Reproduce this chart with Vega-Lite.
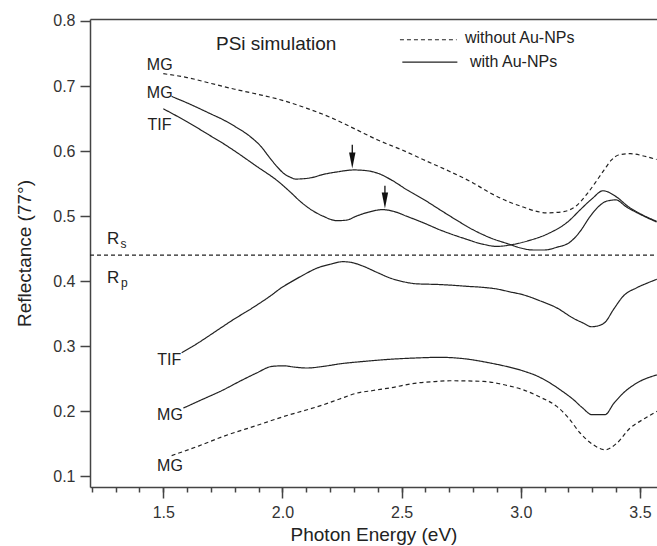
{
 "$schema": "https://vega.github.io/schema/vega-lite/v6.json",
 "width": 567, "height": 468,
 "autosize": {"type": "none"},
 "padding": {"left": 90, "top": 19, "right": 0, "bottom": 59},
 "config": {
   "view": {"stroke": null},
   "font": "Liberation Sans",
   "axis": {"domainColor": "#444", "domainWidth": 1.5, "tickColor": "#444", "tickWidth": 1.5, "labelColor": "#333", "labelFont": "Liberation Sans", "labelFontSize": 16, "titleFont": "Liberation Sans", "titleFontSize": 19, "titleFontWeight": "normal", "titleColor": "#222", "grid": false},
   "text": {"font": "Liberation Sans", "color": "#222"}
 },
 "datasets": {
  "lines": [
   {"s":"F","d":"dash","x":1.50,"y":0.719},{"s":"F","d":"dash","x":1.60,"y":0.713},{"s":"F","d":"dash","x":1.70,"y":0.704},{"s":"F","d":"dash","x":1.80,"y":0.695},{"s":"F","d":"dash","x":1.90,"y":0.687},{"s":"F","d":"dash","x":2.00,"y":0.678},{"s":"F","d":"dash","x":2.10,"y":0.666},{"s":"F","d":"dash","x":2.20,"y":0.652},{"s":"F","d":"dash","x":2.31,"y":0.633},{"s":"F","d":"dash","x":2.40,"y":0.617},{"s":"F","d":"dash","x":2.50,"y":0.602},{"s":"F","d":"dash","x":2.59,"y":0.587},{"s":"F","d":"dash","x":2.70,"y":0.569},{"s":"F","d":"dash","x":2.80,"y":0.551},{"s":"F","d":"dash","x":2.87,"y":0.536},{"s":"F","d":"dash","x":2.95,"y":0.522},{"s":"F","d":"dash","x":3.01,"y":0.514},{"s":"F","d":"dash","x":3.06,"y":0.508},{"s":"F","d":"dash","x":3.11,"y":0.505},{"s":"F","d":"dash","x":3.18,"y":0.507},{"s":"F","d":"dash","x":3.23,"y":0.515},{"s":"F","d":"dash","x":3.28,"y":0.535},{"s":"F","d":"dash","x":3.31,"y":0.550},{"s":"F","d":"dash","x":3.35,"y":0.571},{"s":"F","d":"dash","x":3.38,"y":0.586},{"s":"F","d":"dash","x":3.41,"y":0.594},{"s":"F","d":"dash","x":3.46,"y":0.596},{"s":"F","d":"dash","x":3.52,"y":0.592},{"s":"F","d":"dash","x":3.57,"y":0.587},
   {"s":"A","d":"solid","x":1.535,"y":0.684},{"s":"A","d":"solid","x":1.60,"y":0.674},{"s":"A","d":"solid","x":1.70,"y":0.657},{"s":"A","d":"solid","x":1.752,"y":0.648},{"s":"A","d":"solid","x":1.80,"y":0.638},{"s":"A","d":"solid","x":1.864,"y":0.6225},{"s":"A","d":"solid","x":1.91,"y":0.607},{"s":"A","d":"solid","x":1.948,"y":0.589},{"s":"A","d":"solid","x":1.98,"y":0.575},{"s":"A","d":"solid","x":2.004,"y":0.566},{"s":"A","d":"solid","x":2.032,"y":0.560},{"s":"A","d":"solid","x":2.055,"y":0.557},{"s":"A","d":"solid","x":2.12,"y":0.559},{"s":"A","d":"solid","x":2.17,"y":0.564},{"s":"A","d":"solid","x":2.23,"y":0.568},{"s":"A","d":"solid","x":2.30,"y":0.571},{"s":"A","d":"solid","x":2.35,"y":0.570},{"s":"A","d":"solid","x":2.40,"y":0.566},{"s":"A","d":"solid","x":2.46,"y":0.555},{"s":"A","d":"solid","x":2.52,"y":0.541},{"s":"A","d":"solid","x":2.60,"y":0.524},{"s":"A","d":"solid","x":2.66,"y":0.510},{"s":"A","d":"solid","x":2.73,"y":0.494},{"s":"A","d":"solid","x":2.80,"y":0.479},{"s":"A","d":"solid","x":2.87,"y":0.467},{"s":"A","d":"solid","x":2.95,"y":0.457},{"s":"A","d":"solid","x":3.00,"y":0.451},{"s":"A","d":"solid","x":3.05,"y":0.448},{"s":"A","d":"solid","x":3.10,"y":0.448},{"s":"A","d":"solid","x":3.15,"y":0.452},{"s":"A","d":"solid","x":3.21,"y":0.461},{"s":"A","d":"solid","x":3.25,"y":0.477},{"s":"A","d":"solid","x":3.29,"y":0.499},{"s":"A","d":"solid","x":3.33,"y":0.516},{"s":"A","d":"solid","x":3.36,"y":0.523},{"s":"A","d":"solid","x":3.40,"y":0.525},{"s":"A","d":"solid","x":3.44,"y":0.515},{"s":"A","d":"solid","x":3.50,"y":0.503},{"s":"A","d":"solid","x":3.57,"y":0.491},
   {"s":"B","d":"solid","x":1.50,"y":0.665},{"s":"B","d":"solid","x":1.60,"y":0.645},{"s":"B","d":"solid","x":1.70,"y":0.623},{"s":"B","d":"solid","x":1.75,"y":0.612},{"s":"B","d":"solid","x":1.80,"y":0.600},{"s":"B","d":"solid","x":1.89,"y":0.577},{"s":"B","d":"solid","x":1.98,"y":0.554},{"s":"B","d":"solid","x":2.03,"y":0.538},{"s":"B","d":"solid","x":2.08,"y":0.521},{"s":"B","d":"solid","x":2.12,"y":0.510},{"s":"B","d":"solid","x":2.17,"y":0.500},{"s":"B","d":"solid","x":2.23,"y":0.493},{"s":"B","d":"solid","x":2.27,"y":0.494},{"s":"B","d":"solid","x":2.31,"y":0.500},{"s":"B","d":"solid","x":2.37,"y":0.507},{"s":"B","d":"solid","x":2.42,"y":0.510},{"s":"B","d":"solid","x":2.47,"y":0.507},{"s":"B","d":"solid","x":2.52,"y":0.500},{"s":"B","d":"solid","x":2.59,"y":0.490},{"s":"B","d":"solid","x":2.66,"y":0.479},{"s":"B","d":"solid","x":2.76,"y":0.466},{"s":"B","d":"solid","x":2.84,"y":0.457},{"s":"B","d":"solid","x":2.90,"y":0.4535},{"s":"B","d":"solid","x":2.96,"y":0.456},{"s":"B","d":"solid","x":3.03,"y":0.462},{"s":"B","d":"solid","x":3.12,"y":0.474},{"s":"B","d":"solid","x":3.20,"y":0.492},{"s":"B","d":"solid","x":3.25,"y":0.510},{"s":"B","d":"solid","x":3.30,"y":0.527},{"s":"B","d":"solid","x":3.345,"y":0.539},{"s":"B","d":"solid","x":3.40,"y":0.530},{"s":"B","d":"solid","x":3.45,"y":0.515},{"s":"B","d":"solid","x":3.50,"y":0.504},{"s":"B","d":"solid","x":3.57,"y":0.492},
   {"s":"C","d":"solid","x":1.577,"y":0.290},{"s":"C","d":"solid","x":1.65,"y":0.306},{"s":"C","d":"solid","x":1.72,"y":0.323},{"s":"C","d":"solid","x":1.794,"y":0.341},{"s":"C","d":"solid","x":1.87,"y":0.358},{"s":"C","d":"solid","x":1.948,"y":0.377},{"s":"C","d":"solid","x":2.00,"y":0.391},{"s":"C","d":"solid","x":2.032,"y":0.398},{"s":"C","d":"solid","x":2.09,"y":0.410},{"s":"C","d":"solid","x":2.144,"y":0.420},{"s":"C","d":"solid","x":2.20,"y":0.426},{"s":"C","d":"solid","x":2.255,"y":0.430},{"s":"C","d":"solid","x":2.30,"y":0.428},{"s":"C","d":"solid","x":2.339,"y":0.423},{"s":"C","d":"solid","x":2.40,"y":0.413},{"s":"C","d":"solid","x":2.451,"y":0.405},{"s":"C","d":"solid","x":2.51,"y":0.399},{"s":"C","d":"solid","x":2.563,"y":0.396},{"s":"C","d":"solid","x":2.65,"y":0.395},{"s":"C","d":"solid","x":2.703,"y":0.394},{"s":"C","d":"solid","x":2.78,"y":0.392},{"s":"C","d":"solid","x":2.843,"y":0.3905},{"s":"C","d":"solid","x":2.90,"y":0.388},{"s":"C","d":"solid","x":2.95,"y":0.384},{"s":"C","d":"solid","x":3.011,"y":0.379},{"s":"C","d":"solid","x":3.08,"y":0.370},{"s":"C","d":"solid","x":3.151,"y":0.359},{"s":"C","d":"solid","x":3.221,"y":0.343},{"s":"C","d":"solid","x":3.26,"y":0.336},{"s":"C","d":"solid","x":3.298,"y":0.330},{"s":"C","d":"solid","x":3.33,"y":0.332},{"s":"C","d":"solid","x":3.354,"y":0.337},{"s":"C","d":"solid","x":3.39,"y":0.357},{"s":"C","d":"solid","x":3.43,"y":0.377},{"s":"C","d":"solid","x":3.487,"y":0.390},{"s":"C","d":"solid","x":3.53,"y":0.397},{"s":"C","d":"solid","x":3.571,"y":0.403},
   {"s":"D","d":"solid","x":1.584,"y":0.205},{"s":"D","d":"solid","x":1.65,"y":0.216},{"s":"D","d":"solid","x":1.752,"y":0.233},{"s":"D","d":"solid","x":1.82,"y":0.246},{"s":"D","d":"solid","x":1.892,"y":0.259},{"s":"D","d":"solid","x":1.955,"y":0.269},{"s":"D","d":"solid","x":2.004,"y":0.270},{"s":"D","d":"solid","x":2.05,"y":0.268},{"s":"D","d":"solid","x":2.102,"y":0.2666},{"s":"D","d":"solid","x":2.17,"y":0.269},{"s":"D","d":"solid","x":2.241,"y":0.273},{"s":"D","d":"solid","x":2.35,"y":0.277},{"s":"D","d":"solid","x":2.451,"y":0.280},{"s":"D","d":"solid","x":2.56,"y":0.282},{"s":"D","d":"solid","x":2.661,"y":0.283},{"s":"D","d":"solid","x":2.773,"y":0.2804},{"s":"D","d":"solid","x":2.871,"y":0.2743},{"s":"D","d":"solid","x":2.94,"y":0.269},{"s":"D","d":"solid","x":3.011,"y":0.262},{"s":"D","d":"solid","x":3.07,"y":0.254},{"s":"D","d":"solid","x":3.123,"y":0.2435},{"s":"D","d":"solid","x":3.17,"y":0.232},{"s":"D","d":"solid","x":3.221,"y":0.218},{"s":"D","d":"solid","x":3.26,"y":0.205},{"s":"D","d":"solid","x":3.298,"y":0.195},{"s":"D","d":"solid","x":3.354,"y":0.195},{"s":"D","d":"solid","x":3.39,"y":0.212},{"s":"D","d":"solid","x":3.43,"y":0.228},{"s":"D","d":"solid","x":3.487,"y":0.2435},{"s":"D","d":"solid","x":3.571,"y":0.256},
   {"s":"E","d":"dash","x":1.535,"y":0.132},{"s":"E","d":"dash","x":1.65,"y":0.147},{"s":"E","d":"dash","x":1.752,"y":0.1615},{"s":"E","d":"dash","x":1.89,"y":0.178},{"s":"E","d":"dash","x":2.032,"y":0.195},{"s":"E","d":"dash","x":2.10,"y":0.202},{"s":"E","d":"dash","x":2.171,"y":0.210},{"s":"E","d":"dash","x":2.24,"y":0.219},{"s":"E","d":"dash","x":2.312,"y":0.228},{"s":"E","d":"dash","x":2.38,"y":0.232},{"s":"E","d":"dash","x":2.451,"y":0.236},{"s":"E","d":"dash","x":2.563,"y":0.2435},{"s":"E","d":"dash","x":2.65,"y":0.246},{"s":"E","d":"dash","x":2.703,"y":0.247},{"s":"E","d":"dash","x":2.843,"y":0.246},{"s":"E","d":"dash","x":2.871,"y":0.245},{"s":"E","d":"dash","x":2.94,"y":0.240},{"s":"E","d":"dash","x":3.011,"y":0.233},{"s":"E","d":"dash","x":3.08,"y":0.222},{"s":"E","d":"dash","x":3.151,"y":0.2076},{"s":"E","d":"dash","x":3.20,"y":0.190},{"s":"E","d":"dash","x":3.249,"y":0.1667},{"s":"E","d":"dash","x":3.304,"y":0.1487},{"s":"E","d":"dash","x":3.354,"y":0.141},{"s":"E","d":"dash","x":3.403,"y":0.151},{"s":"E","d":"dash","x":3.458,"y":0.174},{"s":"E","d":"dash","x":3.52,"y":0.189},{"s":"E","d":"dash","x":3.571,"y":0.200},
   {"s":"Rs","d":"fine","x":1.1924,"y":0.44},{"s":"Rs","d":"fine","x":3.5717,"y":0.44},
   {"s":"L1","d":"fine","x":2.493,"y":0.7711},{"s":"L1","d":"fine","x":2.731,"y":0.7711},
   {"s":"L2","d":"solid","x":2.503,"y":0.7368},{"s":"L2","d":"solid","x":2.734,"y":0.7368}
  ],
  "curveLabels": [
   {"t":"MG","x":1.485,"y":0.7327},{"t":"MG","x":1.485,"y":0.6897},{"t":"TIF","x":1.484,"y":0.6394},
   {"t":"TIF","x":1.525,"y":0.2786},{"t":"MG","x":1.528,"y":0.1936},{"t":"MG","x":1.528,"y":0.1157}
  ],
  "legendText": [
   {"t":"without Au-NPs","x":2.766,"y":0.7737},{"t":"with Au-NPs","x":2.787,"y":0.7366}
  ],
  "title": [{"t":"PSi simulation","x":1.721,"y":0.7642}],
  "rLabels": [{"t":"R","x":1.264,"y":0.4572},{"t":"R","x":1.264,"y":0.3977}],
  "rSubs": [{"t":"s","x":1.320,"y":0.4511},{"t":"p","x":1.3225,"y":0.3915}],
  "arrows": [{"x":2.293,"y":0.6098,"y2":0.585},{"x":2.430,"y":0.5468,"y2":0.524}],
  "heads": [{"x":2.293,"y":0.5855},{"x":2.430,"y":0.524}]
 },
 "encoding": {
  "y": {"field": "y", "type": "quantitative", "scale": {"domain": [0.0837, 0.803], "nice": false, "zero": false},
        "axis": {"values": [0.1,0.2,0.3,0.4,0.5,0.6,0.7,0.8], "format": ".1f", "tickSize": 10, "labelPadding": 5, "title": "Reflectance (77°)", "titlePadding": 18}}
 },
 "layer": [
  {
   "data": {"name": "lines"},
   "mark": {"type": "line", "color": "#222", "strokeWidth": 1.2, "interpolate": "monotone"},
   "encoding": {
    "x": {"field": "x", "type": "quantitative", "scale": {"domain": [1.1924, 3.5717], "nice": false, "zero": false},
          "axis": {"orient": "bottom", "values": [1.5,2.0,2.5,3.0,3.5], "format": ".1f", "tickSize": 11, "labelPadding": 6, "title": "Photon Energy (eV)", "titlePadding": 5}},
    "detail": {"field": "s"},
    "strokeDash": {"field": "d", "type": "nominal", "scale": {"domain": ["solid","dash","fine"], "range": [[1,0],[4,3],[4,3]]}, "legend": null}
   }
  },
  {
   "data": {"name": "curveLabels"},
   "mark": {"type": "text", "fontSize": 16, "align": "center", "baseline": "middle", "color": "#222"},
   "encoding": {
    "x": {"field": "x", "type": "quantitative", "scale": {"domain": [1.1924, 3.5717], "nice": false, "zero": false},
          "axis": {"orient": "bottom", "values": [1.2,1.3,1.4,1.5,1.6,1.7,1.8,1.9,2.0,2.1,2.2,2.3,2.4,2.5,2.6,2.7,2.8,2.9,3.0,3.1,3.2,3.3,3.4,3.5], "tickSize": 5, "labels": false, "domain": false, "title": null}},
    "text": {"field": "t"}
   }
  },
  {
   "data": {"name": "legendText"},
   "mark": {"type": "text", "fontSize": 16, "align": "left", "baseline": "middle", "color": "#222"},
   "encoding": {
    "x": {"field": "x", "type": "quantitative", "scale": {"domain": [1.1924, 3.5717], "nice": false, "zero": false}, "axis": null},
    "text": {"field": "t"}
   }
  },
  {
   "data": {"name": "title"},
   "mark": {"type": "text", "fontSize": 19, "align": "left", "baseline": "middle", "color": "#222"},
   "encoding": {
    "x": {"field": "x", "type": "quantitative", "scale": {"domain": [1.1924, 3.5717], "nice": false, "zero": false}, "axis": null},
    "text": {"field": "t"}
   }
  },
  {
   "data": {"name": "rLabels"},
   "mark": {"type": "text", "fontSize": 17, "align": "left", "baseline": "alphabetic", "color": "#222"},
   "encoding": {
    "x": {"field": "x", "type": "quantitative", "scale": {"domain": [1.1924, 3.5717], "nice": false, "zero": false}, "axis": null},
    "text": {"field": "t"}
   }
  },
  {
   "data": {"name": "rSubs"},
   "mark": {"type": "text", "fontSize": 12, "align": "left", "baseline": "alphabetic", "color": "#222"},
   "encoding": {
    "x": {"field": "x", "type": "quantitative", "scale": {"domain": [1.1924, 3.5717], "nice": false, "zero": false}, "axis": null},
    "text": {"field": "t"}
   }
  },
  {
   "data": {"name": "arrows"},
   "mark": {"type": "rule", "color": "#111", "strokeWidth": 1.3},
   "encoding": {
    "x": {"field": "x", "type": "quantitative", "scale": {"domain": [1.1924, 3.5717], "nice": false, "zero": false},
          "axis": {"orient": "top", "ticks": false, "labels": false, "domain": true, "title": null}},
    "y2": {"field": "y2"}
   }
  },
  {
   "data": {"name": "heads"},
   "mark": {"type": "point", "shape": "M -0.4 -1 L 0.4 -1 L 0 1 Z", "filled": true, "size": 256, "color": "#111", "opacity": 1},
   "encoding": {
    "x": {"field": "x", "type": "quantitative", "scale": {"domain": [1.1924, 3.5717], "nice": false, "zero": false}, "axis": null}
   }
  }
 ],
 "resolve": {"axis": {"x": "independent"}}
}
